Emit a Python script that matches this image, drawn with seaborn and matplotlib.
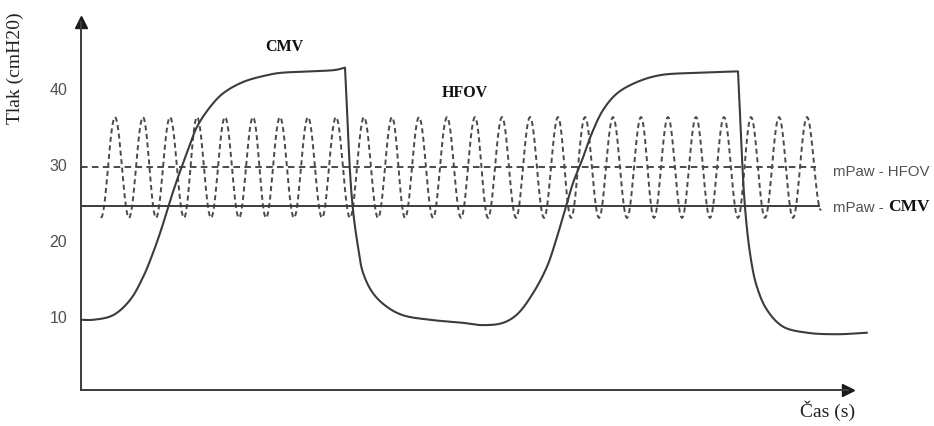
import numpy as np
import pandas as pd
import matplotlib
matplotlib.use("Agg")
import matplotlib.pyplot as plt
import seaborn as sns

# CMV airway pressure trace: time (s) and pressure (cmH2O)
cmv_t = [0.00, 0.12, 0.32, 0.49, 0.62, 0.72, 0.81, 0.87, 0.96, 1.06, 1.16,
         1.29, 1.42, 1.62, 1.86, 1.99, 2.29, 2.55, 2.64,
         2.71, 2.77, 2.82, 2.92, 3.06, 3.22, 3.49, 3.82, 4.02, 4.22, 4.36,
         4.52, 4.66, 4.76, 4.84, 4.92, 5.01, 5.11, 5.22, 5.36, 5.56,
         5.79, 6.12, 6.57,
         6.64, 6.70, 6.76, 6.86, 7.02, 7.26, 7.56, 7.86]
cmv_p = [9.6, 9.6, 10.2, 12.2, 15.2, 18.4, 21.8, 24.4, 28.0, 31.6, 35.0,
         37.6, 39.4, 40.9, 41.8, 42.1, 42.3, 42.5, 42.8,
         25.4, 19.2, 15.8, 13.1, 11.3, 10.2, 9.6, 9.2, 8.9, 9.2, 10.3,
         13.1, 16.6, 20.5, 24.1, 27.6, 30.6, 34.2, 37.2, 39.4, 40.9,
         41.8, 42.1, 42.3,
         24.4, 17.5, 13.9, 10.9, 8.7, 7.9, 7.7, 7.9]
# indices where the trace has a sharp corner (end of each inspiration)
cmv_corners = [18, 42]

# HFOV oscillation: times of peaks and troughs
hfov_peak_t = [0.34, 0.62, 0.89, 1.16, 1.44, 1.72, 1.99, 2.27, 2.55, 2.83,
               3.11, 3.38, 3.66, 3.94, 4.21, 4.49, 4.77, 5.04, 5.32, 5.60,
               5.87, 6.15, 6.43, 6.70, 6.98, 7.26]
hfov_trough_t = [0.20, 0.48, 0.75, 1.03, 1.30, 1.58, 1.85, 2.13, 2.41, 2.69,
                 2.97, 3.24, 3.52, 3.80, 4.07, 4.35, 4.63, 4.90, 5.18, 5.46,
                 5.73, 6.01, 6.29, 6.57, 6.84, 7.12]
hfov_max = 36.3
hfov_min = 23.0
hfov_end = (7.40, 24.0)

# mean airway pressures
mpaw_hfov = 29.7
mpaw_cmv = 24.6
mpaw_end_t = 7.39

tick_vals = [10, 20, 30, 40]

INK = "#3c3c3c"
GREY_TXT = "#505050"

sns.set_theme(style="white")
plt.rcParams["font.family"] = ["Liberation Sans", "DejaVu Sans"]

fig = plt.figure(figsize=(9.34, 4.26), dpi=100)
ax = fig.add_axes([81 / 934, 36 / 426, 767 / 934, 368 / 426])
ax.set_xlim(0, 7.67)
ax.set_ylim(0.36, 48.8)

# scale factors so the curve smoothing works in screen-like proportions
SX, SY = 100.0, 7.6


def catmull_rom(xs, ys, n=12):
    """Centripetal Catmull-Rom curve through the given points."""
    P = np.column_stack([np.asarray(xs) * SX, np.asarray(ys) * SY])
    P = np.vstack([2 * P[0] - P[1], P, 2 * P[-1] - P[-2]])
    out = []
    for i in range(1, len(P) - 2):
        p0, p1, p2, p3 = P[i - 1], P[i], P[i + 1], P[i + 2]
        t0 = 0.0
        t1 = t0 + np.linalg.norm(p1 - p0) ** 0.5 + 1e-9
        t2 = t1 + np.linalg.norm(p2 - p1) ** 0.5 + 1e-9
        t3 = t2 + np.linalg.norm(p3 - p2) ** 0.5 + 1e-9
        tt = np.linspace(t1, t2, n, endpoint=False)[:, None]
        a1 = (t1 - tt) / (t1 - t0) * p0 + (tt - t0) / (t1 - t0) * p1
        a2 = (t2 - tt) / (t2 - t1) * p1 + (tt - t1) / (t2 - t1) * p2
        a3 = (t3 - tt) / (t3 - t2) * p2 + (tt - t2) / (t3 - t2) * p3
        b1 = (t2 - tt) / (t2 - t0) * a1 + (tt - t0) / (t2 - t0) * a2
        b2 = (t3 - tt) / (t3 - t1) * a2 + (tt - t1) / (t3 - t1) * a3
        c = (t2 - tt) / (t2 - t1) * b1 + (tt - t1) / (t2 - t1) * b2
        out.append(c)
    out.append(P[-2][None, :])
    C = np.vstack(out)
    return C[:, 0] / SX, C[:, 1] / SY


# smooth each piece of the CMV trace between its corners
cuts = [0] + cmv_corners + [len(cmv_t) - 1]
sx, sy = [], []
for a, b in zip(cuts[:-1], cuts[1:]):
    px, py = catmull_rom(cmv_t[a:b + 1], cmv_p[a:b + 1])
    if sx:
        px, py = px[1:], py[1:]
    sx.extend(px)
    sy.extend(py)
cmv_df = pd.DataFrame({"t": sx, "p": sy})

# HFOV wave: smooth half-cosine arcs between consecutive extremes
ext = sorted([(t, hfov_max) for t in hfov_peak_t] +
             [(t, hfov_min) for t in hfov_trough_t]) + [hfov_end]
wt, wp = [], []
for k, ((t0, p0), (t1, p1)) in enumerate(zip(ext[:-1], ext[1:])):
    last = k == len(ext) - 2
    s = np.linspace(0, 1, 14) if last else np.linspace(0, 1, 14)[:-1]
    wt.extend(t0 + (t1 - t0) * s)
    wp.extend(p0 + (p1 - p0) * (1 - np.cos(np.pi * s)) / 2)
hfov_df = pd.DataFrame({"t": wt, "p": wp})

sns.lineplot(data=hfov_df, x="t", y="p", ax=ax, color="#4a4a4a", lw=1.4,
             sort=False, estimator=None)
ax.lines[-1].set_dashes((2.6, 1.8))

# mean pressure reference lines
ax.hlines(mpaw_hfov, 0, mpaw_end_t - 0.04, colors="#4a4a4a", lw=1.4,
          linestyles=(0, (3.4, 2.2)))
ax.hlines(mpaw_cmv, 0, mpaw_end_t, colors=INK, lw=1.4)

# CMV trace
sns.lineplot(data=cmv_df, x="t", y="p", ax=ax, color=INK, lw=1.5,
             sort=False, estimator=None)
for ln in ax.lines:
    ln.set_clip_on(False)

# axes with arrowheads
for side in ["top", "right"]:
    ax.spines[side].set_visible(False)
for side in ["left", "bottom"]:
    ax.spines[side].set_color(INK)
    ax.spines[side].set_linewidth(1.4)
ax.plot(1, 0, ">", transform=ax.transAxes, color="#1a1a1a", ms=8, clip_on=False)
ax.plot(0, 1, "^", transform=ax.transAxes, color="#1a1a1a", ms=8, clip_on=False)

ax.set_xticks([])
ax.set_yticks(tick_vals)
ax.set_yticklabels([str(v) for v in tick_vals], color=GREY_TXT, fontsize=11.5)
ax.tick_params(axis="y", length=0, pad=10)
ax.set_xlabel("")
ax.set_ylabel("")

serif = ["Liberation Serif", "DejaVu Serif"]
fig.text(15 / 934, 1 - 68 / 426, "Tlak (cmH20)", rotation=90, ha="center",
         va="center", family=serif, fontsize=14, color="#222222")
fig.text(828 / 934, 1 - 411 / 426, "Čas (s)", ha="center", va="center",
         family=serif, fontsize=14, color="#222222")

ax.text(2.03, 45.5, "CMV", ha="center", va="center", family=serif,
        fontweight="bold", fontsize=11.5, color="#111111")
ax.text(3.84, 39.4, "HFOV", ha="center", va="center", family=serif,
        fontweight="bold", fontsize=11.5, color="#111111")

ax.text(7.52, 29.1, "mPaw - HFOV", ha="left", va="center", fontsize=10.8,
        color=GREY_TXT, clip_on=False)
lab = ax.text(7.52, 24.3, "mPaw - ", ha="left", va="center", fontsize=10.8,
              color=GREY_TXT, clip_on=False)
ax.annotate("CMV", xy=(1, 0), xycoords=lab, ha="left", va="bottom",
            family=serif, fontweight="bold", fontsize=12.5, color="#111111",
            annotation_clip=False)

fig.savefig("out.png", dpi=100, facecolor="white")
